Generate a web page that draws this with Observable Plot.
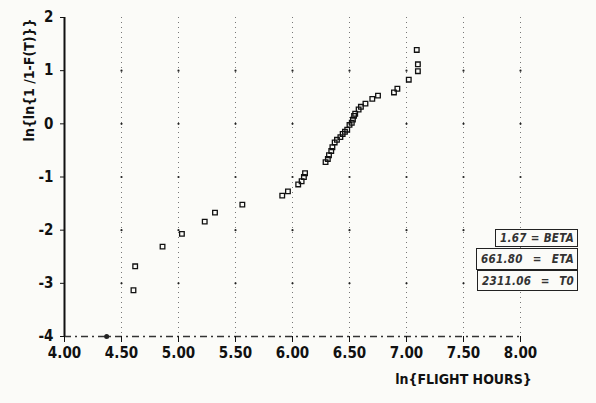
<!DOCTYPE html>
<html>
<head>
<meta charset="utf-8">
<script src="https://cdn.jsdelivr.net/npm/d3@7"></script>
<script src="https://cdn.jsdelivr.net/npm/@observablehq/plot@0.6"></script>
<style>
  html, body { margin: 0; padding: 0; background: #fbfbf8; }
  #wrap { position: relative; width: 596px; height: 403px; overflow: hidden;
          font-family: "Liberation Sans Narrow", "DejaVu Sans Condensed", "Roboto", sans-serif; }
  .box { position: absolute; border: 1.5px solid #222; box-sizing: border-box;
         display: flex; justify-content: space-between; align-items: center;
         padding: 0 3px 0 4px; font-style: italic; font-weight: bold; font-size: 11.5px;
         color: #333; letter-spacing: 0.3px; background: #fbfbf8; }
</style>
</head>
<body>
<div id="wrap"></div>
<script>
// ---- data ----
const lnHours = [4.605, 4.62, 4.86, 5.03, 5.23, 5.32, 5.56, 5.91, 5.96, 6.05, 6.08, 6.10, 6.11,
  6.29, 6.31, 6.32, 6.34, 6.35, 6.37, 6.39, 6.42, 6.44, 6.46, 6.48, 6.50, 6.52, 6.53, 6.54,
  6.55, 6.58, 6.60, 6.64, 6.70, 6.75, 6.89, 6.92, 7.02, 7.10, 7.10, 7.09];
const lnlnF = [-3.13, -2.68, -2.31, -2.07, -1.84, -1.67, -1.52, -1.35, -1.27, -1.14, -1.08, -1.00, -0.93,
  -0.72, -0.66, -0.59, -0.51, -0.44, -0.35, -0.30, -0.25, -0.19, -0.15, -0.11, -0.02, 0.02, 0.08, 0.15,
  0.19, 0.27, 0.32, 0.38, 0.47, 0.53, 0.59, 0.66, 0.83, 0.99, 1.12, 1.39];
const axisMarkX = [4.37];
const axisMarkY = [-4];
const xTicks = [4.00, 4.50, 5.00, 5.50, 6.00, 6.50, 7.00, 7.50, 8.00];
const yTicks = [-4, -3, -2, -1, 0, 1, 2];
const gridX = [4.50, 5.00, 5.50, 6.00, 6.50, 7.00, 7.50, 8.00];
const paramValues = ["1.67", "661.80", "2311.06"];
const paramNames = ["BETA", "ETA", "T0"];
const xLabel = "ln{FLIGHT HOURS}";
const yLabel = "ln{ln{1 /1-F(T)}}";

const points = lnHours.map((x, i) => ({x, y: lnlnF[i]}));
const marks2 = axisMarkX.map((x, i) => ({x, y: axisMarkY[i]}));
const gridDots = gridX.flatMap(x => yTicks.filter(y => y > -4 && y < 2).map(y => ({x, y})));
const fmtY = d => d < 0 ? "-" + Math.abs(d) : String(d);

const chart = Plot.plot({
  width: 596, height: 403,
  marginLeft: 64, marginRight: 76, marginTop: 17, marginBottom: 67,
  x: {domain: [4, 8]},
  y: {domain: [-4, 2]},
  style: {background: "transparent", fontFamily: "'Liberation Sans Narrow', 'DejaVu Sans Condensed', sans-serif",
          fontWeight: "bold", fontSize: "15px", color: "#111"},
  marks: [
    Plot.ruleX(gridX, {stroke: "#777", strokeWidth: 1, strokeDasharray: "1,4"}),
    Plot.dot(gridDots, {x: "x", y: "y", r: 1.1, fill: "#222", stroke: null}),
    Plot.ruleY([-4], {stroke: "#333", strokeWidth: 1.3, strokeDasharray: "7,4,2,4"}),
    Plot.ruleX([4], {stroke: "#111", strokeWidth: 2}),
    Plot.axisX({ticks: xTicks, tickFormat: d => d.toFixed(2), tickSize: 6, tickPadding: 5,
      fontSize: 15, label: null}),
    Plot.axisY({ticks: yTicks, tickFormat: fmtY, tickSize: 4, tickPadding: 7, fontSize: 15, label: null}),
    Plot.text([xLabel], {frameAnchor: "bottom-right", text: d => d, textAnchor: "middle",
      dx: -57, dy: 47, fontSize: 14, fontWeight: "bold"}),
    Plot.text([yLabel], {frameAnchor: "top-left", text: d => d, rotate: -90, textAnchor: "end",
      dx: -40, dy: 1, fontSize: 14, fontWeight: "bold"}),
    Plot.dot(marks2, {x: "x", y: "y", r: 2.5, fill: "#222", stroke: null}),
    Plot.dot(points, {x: "x", y: "y", symbol: "square", r: 2.6, stroke: "#111", strokeWidth: 1.3, fill: "none"})
  ]
});

const wrap = document.getElementById("wrap");
wrap.appendChild(chart);
const boxes = [
  {left: 495, top: 229, width: 83, height: 18},
  {left: 476, top: 248, width: 102, height: 22},
  {left: 477, top: 270, width: 101, height: 21}
];
paramValues.forEach((v, i) => {
  const b = document.createElement("div");
  b.className = "box";
  Object.assign(b.style, {left: boxes[i].left + "px", top: boxes[i].top + "px",
    width: boxes[i].width + "px", height: boxes[i].height + "px"});
  b.innerHTML = `<span>${v}</span><span>=</span><span>${paramNames[i]}</span>`;
  wrap.appendChild(b);
});
</script>
</body>
</html>
